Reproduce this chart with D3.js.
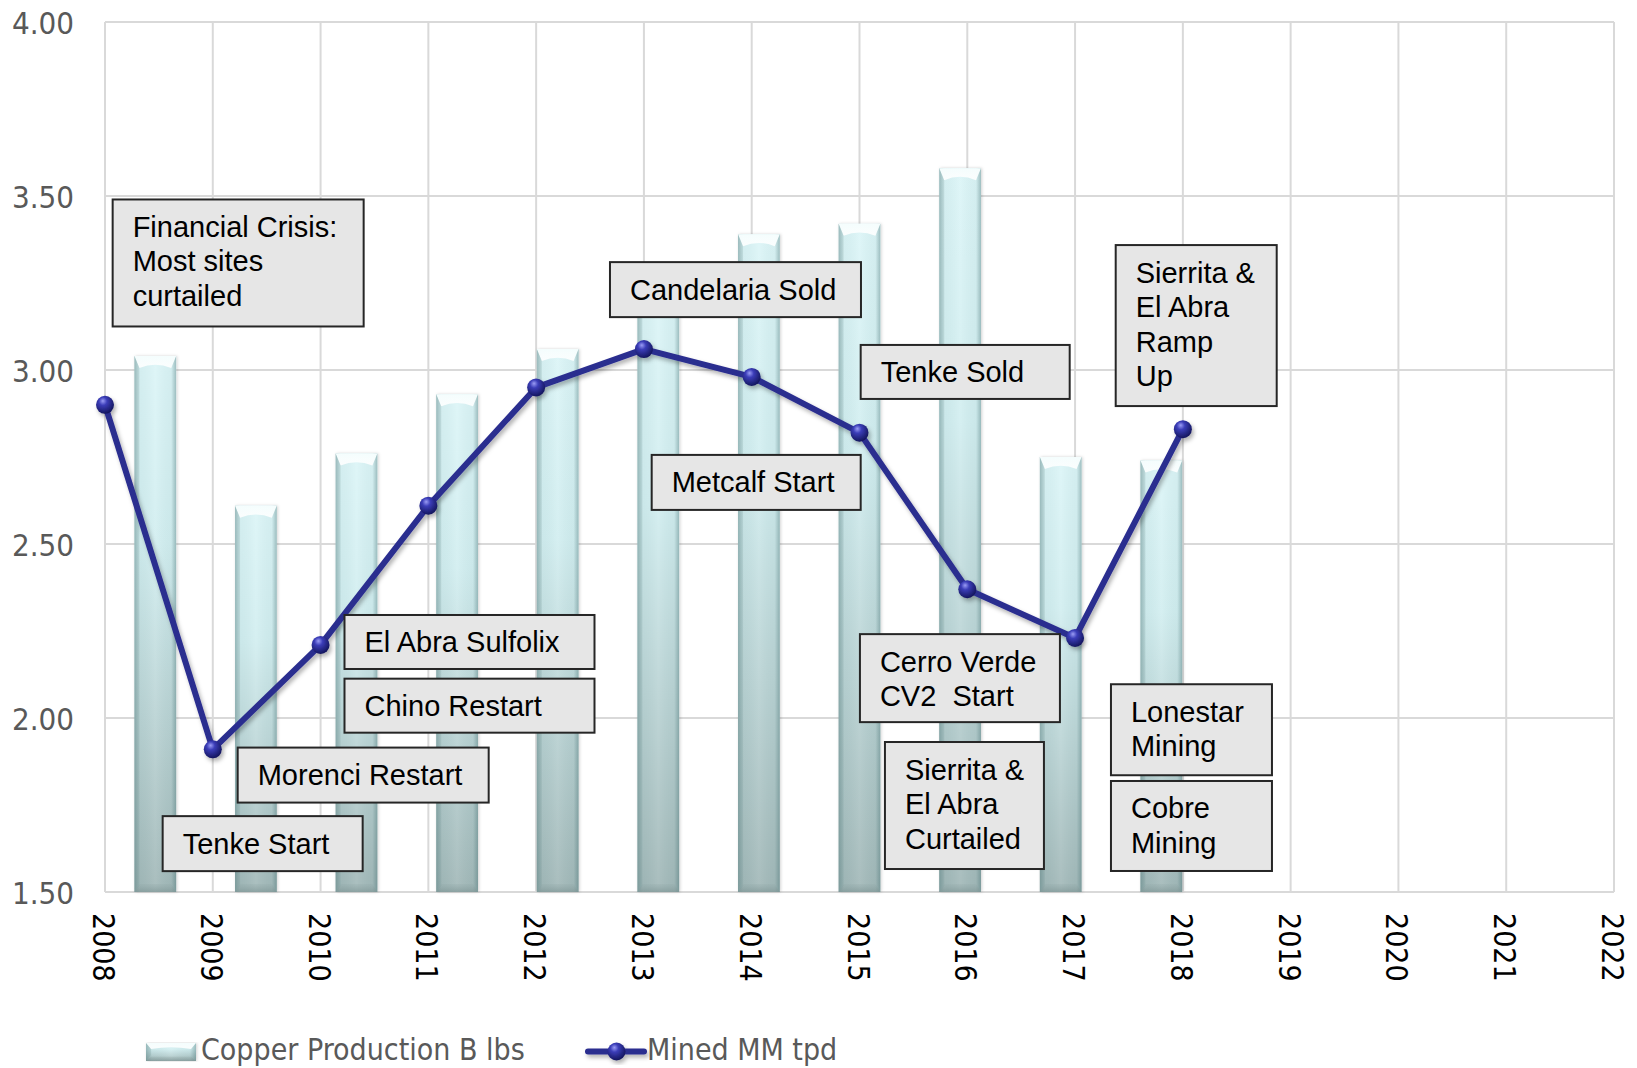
<!DOCTYPE html>
<html>
<head>
<meta charset="utf-8">
<script src="https://cdn.jsdelivr.net/npm/d3@7"></script>
<style>
  html, body { margin: 0; padding: 0; background: #ffffff; }
  svg { display: block; }
  .tick-y { font-family: "DejaVu Sans Condensed", "DejaVu Sans", sans-serif; font-stretch: condensed; font-size: 31px; fill: #595959; }
  .tick-x { font-family: "DejaVu Sans Condensed", "DejaVu Sans", sans-serif; font-stretch: condensed; font-size: 30px; fill: #000000; }
  .legend-text { font-family: "DejaVu Sans Condensed", "DejaVu Sans", sans-serif; font-stretch: condensed; font-size: 30px; fill: #595959; }
  .note-text { font-family: "Liberation Sans", Arial, sans-serif; font-size: 29px; fill: #000000; }
</style>
</head>
<body>
<svg id="chart" width="1637" height="1068"></svg>
<script>
// ---- data ----
const years = [2008, 2009, 2010, 2011, 2012, 2013, 2014, 2015, 2016, 2017, 2018, 2019, 2020, 2021, 2022];
const copperProduction = [3.04, 2.61, 2.76, 2.93, 3.06, 3.22, 3.39, 3.42, 3.58, 2.75, 2.74, null, null, null, null];
const minedTpd = [2.90, 1.91, 2.21, 2.61, 2.95, 3.06, 2.98, 2.82, 2.37, 2.23, 2.83, null, null, null, null];
const yTicks = [1.50, 2.00, 2.50, 3.00, 3.50, 4.00];
const seriesNames = ["Copper Production B lbs", "Mined MM tpd"];

// event call-outs: text lines
const noteTexts = [
  ["Financial Crisis:", "Most sites", "curtailed"],
  ["Candelaria Sold"],
  ["Tenke Sold"],
  ["Sierrita &", "El Abra", "Ramp", "Up"],
  ["Metcalf Start"],
  ["El Abra Sulfolix"],
  ["Chino Restart"],
  ["Morenci Restart"],
  ["Tenke Start"],
  ["Cerro Verde", "CV2  Start"],
  ["Sierrita &", "El Abra", "Curtailed"],
  ["Lonestar", "Mining"],
  ["Cobre", "Mining"]
];
// call-out placement: top-left corner in (year, value) units, box size in px
const noteLayout = [
  { yr: 2008.071, v: 3.490, w: 251, h: 127 },
  { yr: 2012.685, v: 3.310, w: 251, h: 55 },
  { yr: 2015.011, v: 3.072, w: 209, h: 54 },
  { yr: 2017.377, v: 3.359, w: 161, h: 161 },
  { yr: 2013.072, v: 2.756, w: 209, h: 55 },
  { yr: 2010.222, v: 2.296, w: 250, h: 54 },
  { yr: 2010.222, v: 2.113, w: 250, h: 54 },
  { yr: 2009.231, v: 1.915, w: 251, h: 55 },
  { yr: 2008.535, v: 1.718, w: 200, h: 55 },
  { yr: 2015.004, v: 2.241, w: 200, h: 88 },
  { yr: 2015.236, v: 1.931, w: 159, h: 127 },
  { yr: 2017.333, v: 2.097, w: 161, h: 91 },
  { yr: 2017.333, v: 1.819, w: 161, h: 90 }
];

// ---- layout ----
const plot = { left: 105, right: 1614, top: 22, bottom: 892 };
const svg = d3.select("#chart");

const y = d3.scaleLinear().domain([1.5, 4.0]).range([plot.bottom, plot.top]);
const xLine = d3.scaleLinear().domain([years[0], years[years.length - 1]]).range([plot.left, plot.right]);
const xBar = d3.scaleBand().domain(years).range([plot.left, plot.right])
  .paddingInner(0.585).paddingOuter(0.2925);

// ---- defs ----
const defs = svg.append("defs");

const gV = defs.append("linearGradient").attr("id", "barV").attr("x1", 0).attr("y1", 0).attr("x2", 0).attr("y2", 1);
gV.append("stop").attr("offset", "0%").attr("stop-color", "#dcf5f7");
gV.append("stop").attr("offset", "35%").attr("stop-color", "#d2eef0");
gV.append("stop").attr("offset", "100%").attr("stop-color", "#a2b8b8");

const gH = defs.append("linearGradient").attr("id", "barH").attr("x1", 0).attr("y1", 0).attr("x2", 1).attr("y2", 0);
gH.append("stop").attr("offset", "0%").attr("stop-color", "#3d6a6c").attr("stop-opacity", 0.35);
gH.append("stop").attr("offset", "12%").attr("stop-color", "#3d6a6c").attr("stop-opacity", 0.05);
gH.append("stop").attr("offset", "50%").attr("stop-color", "#ffffff").attr("stop-opacity", 0.08);
gH.append("stop").attr("offset", "88%").attr("stop-color", "#3d6a6c").attr("stop-opacity", 0.05);
gH.append("stop").attr("offset", "100%").attr("stop-color", "#3d6a6c").attr("stop-opacity", 0.4);

const gTop = defs.append("linearGradient").attr("id", "barTop").attr("x1", 0).attr("y1", 0).attr("x2", 0).attr("y2", 1);
gTop.append("stop").attr("offset", "0%").attr("stop-color", "#f4fdfd");
gTop.append("stop").attr("offset", "100%").attr("stop-color", "#ffffff").attr("stop-opacity", 0.9);

const gBot = defs.append("linearGradient").attr("id", "barBot").attr("x1", 0).attr("y1", 0).attr("x2", 0).attr("y2", 1);
gBot.append("stop").attr("offset", "0%").attr("stop-color", "#8fa6a6").attr("stop-opacity", 0.2);
gBot.append("stop").attr("offset", "100%").attr("stop-color", "#7f9696").attr("stop-opacity", 0.7);

const gBall = defs.append("radialGradient").attr("id", "ball").attr("cx", "40%").attr("cy", "35%").attr("r", "65%").attr("fx", "38%").attr("fy", "28%");
gBall.append("stop").attr("offset", "0%").attr("stop-color", "#9a9cf5");
gBall.append("stop").attr("offset", "35%").attr("stop-color", "#3b3db8");
gBall.append("stop").attr("offset", "100%").attr("stop-color", "#14165e");

const shadow = defs.append("filter").attr("id", "lineShadow").attr("x", "-10%").attr("y", "-10%").attr("width", "130%").attr("height", "130%");
shadow.append("feDropShadow").attr("dx", 2).attr("dy", 3).attr("stdDeviation", 2)
  .attr("flood-color", "#000000").attr("flood-opacity", 0.3);

const barShadow = defs.append("filter").attr("id", "barShadow").attr("x", "-20%").attr("y", "-5%").attr("width", "140%").attr("height", "110%");
barShadow.append("feDropShadow").attr("dx", 1).attr("dy", 0).attr("stdDeviation", 1.5)
  .attr("flood-color", "#000000").attr("flood-opacity", 0.18);

// ---- grid ----
const grid = svg.append("g");
grid.selectAll("line.h").data(yTicks).join("line")
  .attr("x1", plot.left).attr("x2", plot.right)
  .attr("y1", d => y(d)).attr("y2", d => y(d))
  .attr("stroke", "#d9d9d9").attr("stroke-width", 2);
grid.selectAll("line.v").data(years).join("line")
  .attr("x1", d => xLine(d)).attr("x2", d => xLine(d))
  .attr("y1", plot.top).attr("y2", plot.bottom)
  .attr("stroke", "#d9d9d9").attr("stroke-width", 2);

// ---- axes labels ----
const yAxis = d3.axisLeft(y).tickValues(yTicks).tickFormat(d3.format(".2f")).tickSize(0).tickPadding(0);
const yG = svg.append("g").attr("transform", `translate(${plot.left - 31},0)`).call(yAxis);
yG.select(".domain").remove();
yG.selectAll("text").attr("class", "tick-y").attr("font-size", null).attr("font-family", null).attr("fill", null)
  .attr("dy", "0.36em");

const xAxis = d3.axisBottom(xLine).tickValues(years).tickFormat(d3.format("d")).tickSize(0);
const xG = svg.append("g").attr("transform", `translate(0,${plot.bottom})`).call(xAxis);
xG.select(".domain").remove();
xG.selectAll("text").attr("class", "tick-x").attr("font-size", null).attr("font-family", null).attr("fill", null)
  .attr("y", 0).attr("dy", null)
  .attr("text-anchor", "start")
  .attr("dominant-baseline", "central")
  .attr("transform", "translate(-2,21) rotate(90)");

// ---- bars ----
const barData = years.map((yr, i) => ({ yr, v: copperProduction[i] })).filter(d => d.v != null);
const bars = svg.append("g").selectAll("g.bar").data(barData).join("g").attr("class", "bar");

function drawBar(sel, bx, top, w, h) {
  sel.append("rect").attr("x", bx).attr("y", top).attr("width", w).attr("height", h)
    .attr("fill", "url(#barV)").attr("filter", "url(#barShadow)");
  sel.append("rect").attr("x", bx).attr("y", top).attr("width", w).attr("height", h)
    .attr("fill", "url(#barH)");
  const bev = Math.min(12, h / 3);
  // top bevel
  sel.append("path")
    .attr("d", `M${bx},${top} L${bx + w},${top} L${bx + w - 5},${top + bev} Q${bx + w / 2},${top + bev * 0.45} ${bx + 5},${top + bev} Z`)
    .attr("fill", "url(#barTop)");
  sel.append("path")
    .attr("d", `M${bx},${top} L${bx + 5},${top + bev} L${bx + 5},${top + h - 6} L${bx},${top + h} Z`)
    .attr("fill", "#6f8e90").attr("opacity", 0.18);
  // bottom bevel
  const bb = Math.min(8, h / 4);
  sel.append("path")
    .attr("d", `M${bx + 5},${top + h - bb} L${bx + w - 5},${top + h - bb} L${bx + w},${top + h} L${bx},${top + h} Z`)
    .attr("fill", "url(#barBot)");
}

bars.each(function (d) {
  const g = d3.select(this);
  const bx = xBar(d.yr), w = xBar.bandwidth();
  const top = y(d.v), h = y(1.5) - y(d.v);
  drawBar(g, bx, top, w, h);
});

// ---- line ----
const lineData = years.map((yr, i) => ({ yr, v: minedTpd[i] })).filter(d => d.v != null);
const lineGen = d3.line().x(d => xLine(d.yr)).y(d => y(d.v));
const lineG = svg.append("g").attr("filter", "url(#lineShadow)");
lineG.append("path").datum(lineData).attr("d", lineGen)
  .attr("fill", "none").attr("stroke", "#2b2d8f").attr("stroke-width", 6).attr("stroke-linejoin", "round");
lineG.selectAll("circle").data(lineData).join("circle")
  .attr("cx", d => xLine(d.yr)).attr("cy", d => y(d.v)).attr("r", 9)
  .attr("fill", "url(#ball)");

// ---- call-outs ----
const notes = svg.append("g").selectAll("g.note").data(noteTexts.map((t, i) => ({ lines: t, ...noteLayout[i] })))
  .join("g").attr("class", "note")
  .attr("transform", d => `translate(${xLine(d.yr)},${y(d.v)})`);
notes.append("rect").attr("x", 0).attr("y", 0).attr("width", d => d.w).attr("height", d => d.h)
  .attr("fill", "#e6e6e6").attr("stroke", "#262626").attr("stroke-width", 2);
notes.each(function (d) {
  const t = d3.select(this).append("text").attr("class", "note-text").attr("style", "white-space: pre");
  d.lines.forEach((ln, i) => {
    t.append("tspan").attr("x", 20).attr("y", 37.5 + i * 34.5).text(ln);
  });
});

// ---- legend ----
const legend = svg.append("g");
const lb = legend.append("g");
drawBar(lb, 146, 1043, 50, 18);
legend.append("text").attr("class", "legend-text").attr("x", 201).attr("y", 1049).attr("dy", "0.36em").text(seriesNames[0]);
const ll = legend.append("g").attr("filter", "url(#lineShadow)");
ll.append("line").attr("x1", 588).attr("x2", 644).attr("y1", 1051.5).attr("y2", 1051.5)
  .attr("stroke", "#2b2d8f").attr("stroke-width", 6).attr("stroke-linecap", "round");
ll.append("circle").attr("cx", 616.5).attr("cy", 1051.5).attr("r", 9).attr("fill", "url(#ball)");
legend.append("text").attr("class", "legend-text").attr("x", 647).attr("y", 1049).attr("dy", "0.36em").text(seriesNames[1]);
</script>
</body>
</html>
